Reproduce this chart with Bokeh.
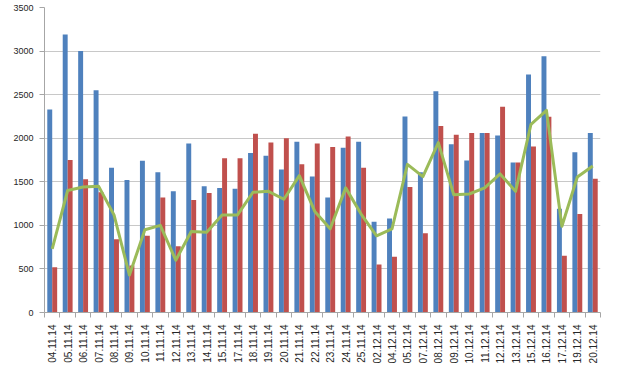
from bokeh.plotting import figure
from bokeh.models import ColumnDataSource, FixedTicker, Range1d
from bokeh.transform import dodge
from bokeh.embed import file_html
from bokeh.resources import INLINE

dates = ["04.11.14", "05.11.14", "06.11.14", "07.11.14", "08.11.14", "09.11.14",
         "10.11.14", "11.11.14", "12.11.14", "13.11.14", "14.11.14", "15.11.14",
         "17.11.14", "18.11.14", "19.11.14", "20.11.14", "21.11.14", "22.11.14",
         "23.11.14", "24.11.14", "25.11.14", "02.12.14", "04.12.14", "05.12.14",
         "07.12.14", "08.12.14", "09.12.14", "10.12.14", "11.12.14", "12.12.14",
         "13.12.14", "15.12.14", "16.12.14", "17.12.14", "19.12.14", "20.12.14"]

blue = [2330, 3190, 3000, 2550, 1660, 1520, 1740, 1610, 1390, 1940, 1450, 1430,
        1420, 1830, 1800, 1640, 1960, 1560, 1320, 1890, 1960, 1040, 1080, 2250,
        1610, 2540, 1930, 1745, 2060, 2030, 1720, 2730, 2940, 1190, 1840, 2060]

red = [520, 1750, 1530, 1380, 840, 540, 880, 1320, 760, 1290, 1370, 1770,
       1770, 2050, 1950, 2000, 1700, 1940, 1900, 2020, 1660, 550, 640, 1440,
       910, 2140, 2040, 2060, 2060, 2360, 1720, 1905, 2245, 650, 1130, 1535]

green = [730, 1400, 1440, 1450, 1120, 430, 950, 1000, 600, 930, 920, 1120,
         1120, 1380, 1390, 1300, 1570, 1160, 960, 1430, 1130, 880, 960, 1700,
         1560, 1950, 1350, 1360, 1430, 1590, 1390, 2160, 2320, 990, 1555, 1680]

y_ticks = [0, 500, 1000, 1500, 2000, 2500, 3000, 3500]

idx = list(range(len(dates)))
src = ColumnDataSource(dict(idx=idx, date=dates, blue=blue, red=red, green=green))

p = figure(width=616, height=366, output_backend="svg", toolbar_location=None,
           x_range=Range1d(-0.5, len(dates) - 0.5), y_range=Range1d(0, 3500),
           min_border_left=44, min_border_right=16, min_border_top=7,
           min_border_bottom=51)
p.outline_line_color = None
p.background_fill_color = "white"
p.border_fill_color = "white"

p.vbar(x=dodge("idx", -0.16, range=p.x_range), top="blue", width=0.32,
       source=src, fill_color="#4F81BD", line_color=None)
p.vbar(x=dodge("idx", 0.16, range=p.x_range), top="red", width=0.32,
       source=src, fill_color="#C0504D", line_color=None)
p.line(x="idx", y="green", source=src, line_color="#9BBB59", line_width=3,
       line_join="round")

# x axis
p.xaxis.ticker = FixedTicker(ticks=idx, minor_ticks=[i - 0.5 for i in range(len(dates) + 1)])
p.xaxis.major_label_overrides = {i: d for i, d in enumerate(dates)}
p.xaxis.major_label_orientation = 1.5708
p.xaxis.major_tick_line_color = None
p.xaxis.major_tick_out = 0
p.xaxis.major_tick_in = 0
p.xaxis.minor_tick_line_color = "#a6a6a6"
p.xaxis.minor_tick_out = 5
p.xaxis.minor_tick_in = 0
p.xaxis.axis_line_color = "#a6a6a6"
p.xaxis.major_label_text_font = "Liberation Sans"
p.xaxis.major_label_text_font_size = "10px"
p.xaxis.major_label_text_color = "#262626"
p.xaxis.major_label_standoff = 7

# y axis
p.yaxis.ticker = FixedTicker(ticks=y_ticks)
p.yaxis.minor_tick_line_color = None
p.yaxis.major_tick_line_color = "#a6a6a6"
p.yaxis.major_tick_out = 5
p.yaxis.major_tick_in = 0
p.yaxis.axis_line_color = "#a6a6a6"
p.yaxis.major_label_text_font = "Liberation Sans"
p.yaxis.major_label_text_font_size = "9px"
p.yaxis.major_label_text_color = "#262626"
p.yaxis.major_label_standoff = 6

p.xgrid.grid_line_color = None
p.ygrid.ticker = FixedTicker(ticks=y_ticks)
p.ygrid.grid_line_color = "#c8c8c8"
p.ygrid.grid_line_width = 1

open("out.html", "w").write(file_html(p, INLINE))
